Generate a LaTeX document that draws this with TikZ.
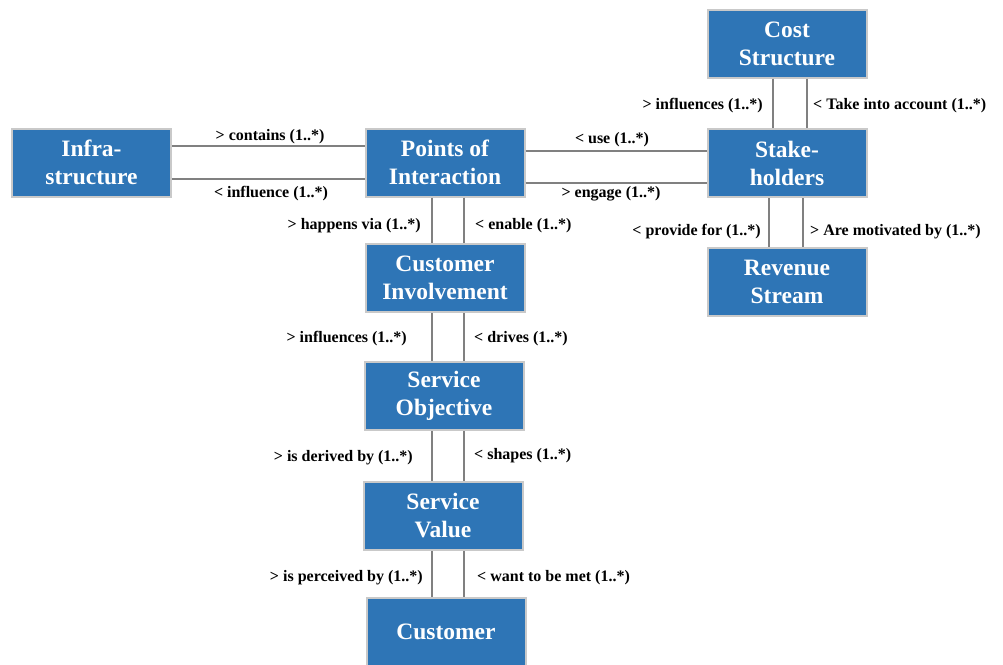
\documentclass[tikz,border=0pt]{standalone}
\usepackage{fontspec}
\setmainfont{Liberation Serif}
\definecolor{boxblue}{HTML}{2E75B6}
\definecolor{boxedge}{HTML}{C9C9C9}
\definecolor{linegray}{HTML}{808080}
\begin{document}
\begin{tikzpicture}[x=1pt,y=-1pt,
  box/.style={draw=boxedge,line width=2pt,fill=boxblue,text=white,
    minimum width=159pt,minimum height=68pt,inner sep=0pt,align=center,
    font=\fontsize{23.5}{28}\selectfont\bfseries},
  conn/.style={draw=linegray,line width=2pt},
  lbl/.style={inner sep=0pt,font=\fontsize{16}{19}\selectfont\bfseries,text=black}]
\useasboundingbox (0,0) rectangle (1003,664);
% boxes
\node[box] (cost)  at (787,43.5) {Cost\\Structure};
\node[box] (stake) at (787,163) {Stake-\\holders};
\node[box] (rev)   at (787,282) {Revenue\\Stream};
\node[box] (infra) at (91.5,162.5) {Infra-\\structure};
\node[box] (poi)   at (445,162.5) {Points of\\Interaction};
\node[box] (ci)    at (445,278) {Customer\\Involvement};
\node[box] (so)    at (444,396) {Service\\Objective};
\node[box] (sv)    at (443,516) {Service\\Value};
\node[box] (cust)  at (446,632) {Customer};
% connectors
\draw[conn] (infra.east |- 0,146) -- (poi.west |- 0,146);
\draw[conn] (infra.east |- 0,179) -- (poi.west |- 0,179);
\draw[conn] (poi.east |- 0,151) -- (stake.west |- 0,151);
\draw[conn] (poi.east |- 0,183) -- (stake.west |- 0,183);
\draw[conn] (poi.south -| 432,0) -- (ci.north -| 432,0);
\draw[conn] (poi.south -| 464,0) -- (ci.north -| 464,0);
\draw[conn] (ci.south -| 432,0) -- (so.north -| 432,0);
\draw[conn] (ci.south -| 464,0) -- (so.north -| 464,0);
\draw[conn] (so.south -| 432,0) -- (sv.north -| 432,0);
\draw[conn] (so.south -| 464,0) -- (sv.north -| 464,0);
\draw[conn] (sv.south -| 432,0) -- (cust.north -| 432,0);
\draw[conn] (sv.south -| 464,0) -- (cust.north -| 464,0);
\draw[conn] (cost.south -| 773,0) -- (stake.north -| 773,0);
\draw[conn] (cost.south -| 807,0) -- (stake.north -| 807,0);
\draw[conn] (stake.south -| 769,0) -- (rev.north -| 769,0);
\draw[conn] (stake.south -| 803,0) -- (rev.north -| 803,0);
% labels
\node[lbl] (l1) at (270,137) {> contains (1..*)};
\node[lbl] (l2) at (271,194) {< influence (1..*)};
\node[lbl,anchor=east] (l3) at (421,226) {> happens via (1..*)};
\node[lbl,anchor=west] (l4) at (475,226) {< enable (1..*)};
\node[lbl] (l5) at (612,140) {< use (1..*)};
\node[lbl] (l6) at (611,194) {> engage (1..*)};
\node[lbl,anchor=east] (l7) at (763,106) {> influences (1..*)};
\node[lbl,anchor=west] (l8) at (813,106) {< Take into account (1..*)};
\node[lbl,anchor=east] (l9) at (761,232) {< provide for (1..*)};
\node[lbl,anchor=west] (l10) at (810,232) {> Are motivated by (1..*)};
\node[lbl,anchor=east] (l11) at (407,339) {> influences (1..*)};
\node[lbl,anchor=west] (l12) at (474,339) {< drives (1..*)};
\node[lbl,anchor=east] (l13) at (413,458) {> is derived by (1..*)};
\node[lbl,anchor=west] (l14) at (474,456) {< shapes (1..*)};
\node[lbl,anchor=east] (l15) at (423,578) {> is perceived by (1..*)};
\node[lbl,anchor=west] (l16) at (477,578) {< want to be met (1..*)};
\end{tikzpicture}
\end{document}
